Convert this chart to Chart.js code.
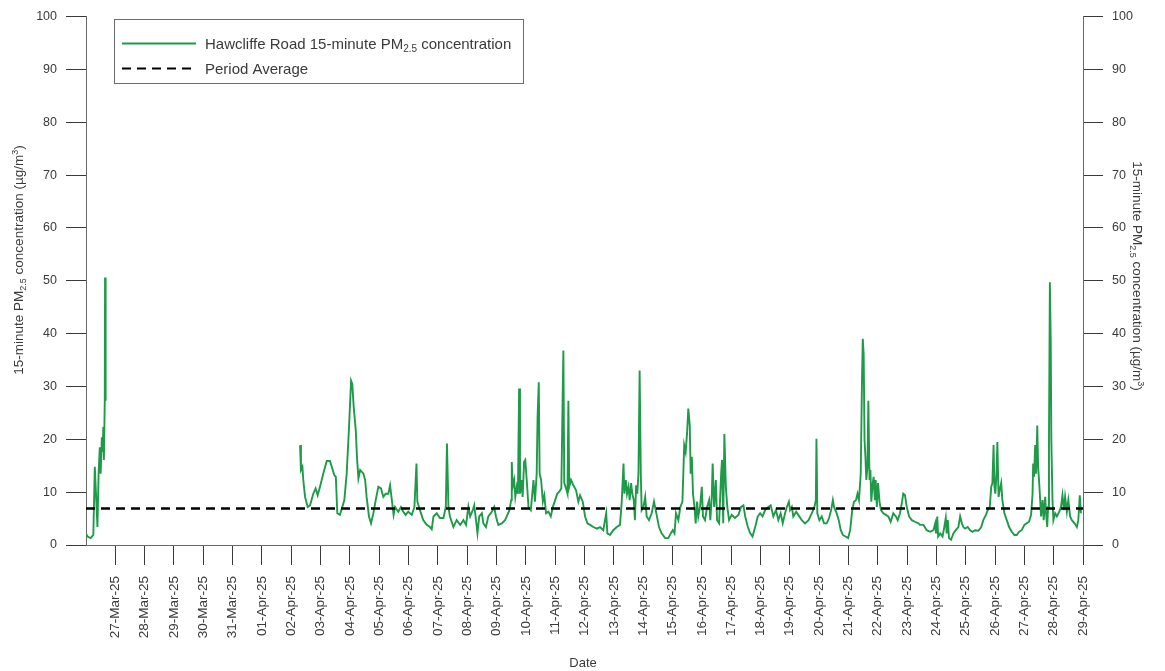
<!DOCTYPE html>
<html>
<head>
<meta charset="utf-8">
<script src="https://cdn.jsdelivr.net/npm/chart.js@4.4.1/dist/chart.umd.min.js"></script>
<style>
  html, body { margin: 0; padding: 0; background: #fff; }
  canvas { display: block; }
</style>
</head>
<body>
<canvas id="chart" width="1165" height="671" style="width:1165px;height:671px"></canvas>
<script>
// x values are days since 26-Mar-25 00:00
const dateLabels = [
  '27-Mar-25', '28-Mar-25', '29-Mar-25', '30-Mar-25', '31-Mar-25', '01-Apr-25', '02-Apr-25',
  '03-Apr-25', '04-Apr-25', '05-Apr-25', '06-Apr-25', '07-Apr-25', '08-Apr-25', '09-Apr-25',
  '10-Apr-25', '11-Apr-25', '12-Apr-25', '13-Apr-25', '14-Apr-25', '15-Apr-25', '16-Apr-25',
  '17-Apr-25', '18-Apr-25', '19-Apr-25', '20-Apr-25', '21-Apr-25', '22-Apr-25', '23-Apr-25',
  '24-Apr-25', '25-Apr-25', '26-Apr-25', '27-Apr-25', '28-Apr-25', '29-Apr-25'
];
const yTickStep = 10;
const yMax = 100;
const periodAverage = 6.9;

// [day, PM2.5 ug/m3]
const march26 = [
  [0.00, 2.2], [0.05, 1.6], [0.16, 1.3], [0.25, 1.9], [0.30, 14.8], [0.34, 9.7], [0.39, 3.4],
  [0.43, 13.5], [0.47, 18.5], [0.50, 13.5], [0.54, 20.4], [0.57, 17.6], [0.59, 22.3], [0.61, 16.1],
  [0.64, 27.3], [0.65, 50.6], [0.67, 27.3]
];
const april02to08 = [
  [7.30, 18.9], [7.33, 14.2], [7.38, 14.8], [7.41, 12.3], [7.47, 9.1], [7.56, 7.2], [7.64, 7.5],
  [7.75, 9.7], [7.83, 10.7], [7.90, 9.4], [7.98, 11], [8.09, 13.5], [8.21, 15.9], [8.32, 15.9],
  [8.38, 14.8], [8.47, 13.2], [8.52, 12.9], [8.57, 6], [8.66, 5.7], [8.74, 7.2], [8.81, 8.5],
  [8.89, 13.5], [8.97, 22.3], [9.04, 31.1], [9.08, 30.5], [9.13, 26.1], [9.20, 21.7], [9.24, 16.7],
  [9.29, 12.6], [9.35, 14.2], [9.46, 13.5], [9.52, 12.3], [9.57, 9.1], [9.65, 5.4], [9.72, 4.1],
  [9.80, 6], [9.88, 8.5], [9.97, 11], [10.06, 10.7], [10.14, 9.1], [10.22, 9.7], [10.31, 9.7],
  [10.37, 11.3], [10.43, 8.5], [10.49, 5.7], [10.54, 7.2], [10.65, 6.3], [10.74, 7.2], [10.82, 6.3],
  [10.90, 5.7], [10.99, 6.3], [11.11, 5.7], [11.20, 7.2], [11.27, 15.4], [11.30, 8.2], [11.39, 6.6],
  [11.50, 4.7], [11.62, 3.8], [11.73, 3.4], [11.79, 3], [11.85, 5.4], [11.96, 6], [12.07, 5.1],
  [12.19, 5.1], [12.27, 7.2], [12.31, 19.2], [12.36, 7.2]
];
const april08to13 = [
  [12.41, 5.4], [12.53, 3.4], [12.64, 4.7], [12.76, 3.8], [12.87, 4.7], [12.96, 3.8], [13.04, 7.2],
  [13.10, 5.4], [13.19, 6.6], [13.24, 7.5], [13.30, 4.7], [13.35, 2.2], [13.41, 5.4], [13.50, 6],
  [13.55, 4.1], [13.64, 3.4], [13.72, 5.4], [13.84, 6.3], [13.92, 7.2], [13.98, 5.4], [14.06, 3.8],
  [14.18, 4.1], [14.29, 4.7], [14.37, 5.7], [14.44, 6.6], [14.50, 8.5], [14.52, 15.7], [14.55, 11],
  [14.60, 12.3], [14.64, 9.1], [14.69, 11], [14.73, 9.7], [14.77, 29.6], [14.80, 9.7], [14.85, 12.3],
  [14.89, 9.1], [14.94, 15.7], [14.98, 16.1], [15.03, 12.3], [15.09, 7.2], [15.17, 6.6], [15.26, 12.3],
  [15.31, 8.2], [15.37, 13.5], [15.40, 24.2], [15.44, 30.8], [15.47, 13.5], [15.52, 12.3], [15.58, 8.2],
  [15.63, 9.4], [15.69, 6], [15.77, 6.3], [15.85, 5.4], [15.92, 7.2], [16.00, 8.5], [16.07, 9.7],
  [16.14, 10.1], [16.21, 10.7], [16.25, 26], [16.28, 36.8], [16.31, 11.7], [16.37, 10.7], [16.42, 9.7],
  [16.45, 27.3], [16.48, 11], [16.54, 12.3], [16.62, 11.3], [16.71, 10.4], [16.79, 8.2], [16.85, 9.4],
  [16.94, 8.2], [17.02, 5.4], [17.10, 4.1], [17.19, 3.8], [17.30, 3.4], [17.42, 3.1], [17.53, 3.4],
  [17.64, 2.8], [17.74, 6], [17.78, 2.2], [17.87, 1.9]
];
const april13to19 = [
  [17.98, 2.8], [18.10, 3.4], [18.21, 3.8], [18.27, 8.2], [18.33, 15.4], [18.36, 9.7], [18.41, 12.3],
  [18.45, 9.7], [18.50, 11], [18.54, 8.5], [18.59, 11.7], [18.63, 9.7], [18.68, 8.5], [18.72, 4.7],
  [18.76, 11.3], [18.80, 9.7], [18.84, 13.5], [18.88, 33], [18.92, 13.5], [18.95, 6.6], [19.01, 7.2],
  [19.07, 9.1], [19.12, 5.4], [19.20, 4.7], [19.29, 6], [19.37, 8.2], [19.46, 5.7], [19.54, 3.4],
  [19.63, 2.2], [19.75, 1.3], [19.86, 1.3], [19.94, 2.2], [20.01, 2.8], [20.07, 2.2], [20.12, 6],
  [20.20, 4.7], [20.27, 7.2], [20.34, 8.2], [20.40, 18.9], [20.45, 17.6], [20.50, 21.4], [20.54, 25.8],
  [20.59, 22.6], [20.62, 13.5], [20.66, 16.7], [20.70, 9.7], [20.75, 7.2], [20.79, 4.1], [20.84, 8.2],
  [20.88, 5.4], [20.94, 7.2], [21.00, 11], [21.04, 5.4], [21.11, 4.7], [21.18, 7.2], [21.25, 8.5],
  [21.29, 4.7], [21.34, 9.1], [21.37, 15.4], [21.42, 7.2], [21.48, 12.3], [21.52, 4.7], [21.59, 4.1],
  [21.66, 13.5], [21.69, 16.1], [21.73, 4.1], [21.77, 21], [21.82, 11], [21.87, 7.2], [21.93, 4.7],
  [22.02, 5.7], [22.13, 5.1], [22.25, 5.7], [22.34, 7.2], [22.42, 7.5], [22.48, 5.4], [22.57, 3.4],
  [22.65, 2.2], [22.73, 1.6], [22.82, 3.4], [22.91, 5.4], [22.99, 6], [23.07, 5.4], [23.16, 6.6]
];
const april19to24 = [
  [23.27, 7.2], [23.35, 7.5], [23.44, 5.4], [23.53, 6.6], [23.61, 4.7], [23.69, 6], [23.76, 4.1],
  [23.84, 6], [23.90, 7.2], [23.97, 8.2], [24.01, 6.6], [24.07, 7.2], [24.12, 5.4], [24.22, 6.3],
  [24.29, 5.7], [24.41, 4.7], [24.52, 4.1], [24.64, 4.7], [24.75, 6], [24.84, 7.2], [24.89, 8.5],
  [24.91, 20.1], [24.94, 6], [25.01, 4.7], [25.09, 5.4], [25.17, 4.1], [25.26, 4.1], [25.34, 5.1],
  [25.41, 6.6], [25.47, 8.5], [25.51, 7.2], [25.60, 6], [25.67, 4.7], [25.74, 2.8], [25.81, 1.9],
  [25.90, 1.6], [25.99, 1.3], [26.06, 2.8], [26.13, 6.6], [26.19, 8.2], [26.26, 8.5], [26.31, 9.7],
  [26.36, 8.5], [26.42, 13.5], [26.46, 29.9], [26.49, 39], [26.52, 36.2], [26.55, 19.8], [26.58, 16.7],
  [26.61, 12.3], [26.65, 14.8], [26.68, 27.3], [26.72, 12.3], [26.75, 14.2], [26.78, 8.2], [26.83, 11.7],
  [26.86, 12.9], [26.90, 8.5], [26.93, 12.3], [26.97, 7.2], [27.01, 11.7], [27.06, 8.2], [27.11, 6.6],
  [27.19, 6], [27.28, 5.7], [27.36, 5.4], [27.44, 4.4], [27.53, 6], [27.62, 5.4], [27.68, 4.7],
  [27.76, 6], [27.83, 8.2], [27.87, 9.7], [27.93, 9.4], [27.99, 7.2], [28.07, 5.4], [28.16, 4.7],
  [28.27, 4.4], [28.39, 4.1], [28.44, 3.8]
];
const april24to29 = [
  [28.56, 3.8], [28.67, 2.8], [28.79, 2.5], [28.90, 2.8], [28.96, 4.1], [28.99, 2.2], [29.03, 5.4],
  [29.06, 1.6], [29.13, 2.2], [29.21, 1.6], [29.27, 3.4], [29.32, 5.1], [29.35, 2.2], [29.39, 4.7],
  [29.43, 1.3], [29.50, 1], [29.58, 2.2], [29.66, 2.8], [29.75, 3.4], [29.81, 5.4], [29.87, 4.1],
  [29.92, 3.4], [29.98, 3.1], [30.07, 3.4], [30.15, 2.8], [30.23, 2.5], [30.32, 2.8], [30.43, 2.7],
  [30.53, 3.4], [30.60, 4.7], [30.69, 5.7], [30.75, 6.6], [30.82, 7.2], [30.87, 11], [30.91, 11.7],
  [30.95, 18.9], [30.98, 11], [31.01, 9.7], [31.05, 13.5], [31.08, 19.5], [31.12, 9.1], [31.16, 10.4],
  [31.21, 11.7], [31.25, 8.5], [31.32, 6], [31.40, 4.7], [31.48, 3.4], [31.57, 2.5], [31.66, 1.9],
  [31.74, 1.9], [31.82, 2.5], [31.91, 2.8], [32.00, 3.8], [32.08, 4.1], [32.16, 4.4], [32.23, 5.7],
  [32.28, 9.7], [32.30, 15.4], [32.33, 12.9], [32.37, 18.9], [32.40, 13.5], [32.44, 22.6], [32.47, 14.8],
  [32.50, 12.3], [32.54, 8.5], [32.57, 5.4], [32.62, 8.5], [32.66, 4.7], [32.71, 9.1], [32.74, 6],
  [32.78, 3.4], [32.81, 7.2], [32.84, 19.8], [32.87, 49.7], [32.90, 38.7], [32.92, 19.8], [32.96, 8.5],
  [32.99, 4.7], [33.05, 6], [33.11, 5.4], [33.19, 6.3], [33.25, 7.2], [33.30, 9.4], [33.35, 6.6],
  [33.39, 9.1], [33.45, 6.3], [33.50, 8.5], [33.56, 5.4], [33.62, 4.7], [33.71, 4.1], [33.79, 3.4],
  [33.84, 4.7], [33.89, 9.4], [33.93, 6]
];

const FONT = "'Liberation Sans', Arial, sans-serif";
const GREEN = '#1e9a48';
const TEXT = '#3a3a3a';

const toPoints = (rows) => rows.map(([d, v]) => ({ x: d, y: v }));
const pmPoints = [
  ...toPoints(march26),
  { x: 3, y: null }, // no data 27-Mar to 02-Apr
  ...toPoints(april02to08),
  ...toPoints(april08to13),
  ...toPoints(april13to19),
  ...toPoints(april19to24),
  ...toPoints(april24to29),
];

// text with sub/superscript pieces
function richWidth(ctx, pieces, size) {
  let w = 0;
  pieces.forEach((p) => {
    ctx.font = `${p.s ? Math.round(size * 0.65) : size}px ${FONT}`;
    w += ctx.measureText(p.t).width;
  });
  return w;
}
function drawRich(ctx, pieces, x, y, size) {
  let cx = x;
  pieces.forEach((p) => {
    const small = p.s === 'sub' || p.s === 'sup';
    ctx.font = `${small ? Math.round(size * 0.65) : size}px ${FONT}`;
    let dy = 0;
    if (p.s === 'sub') dy = size * 0.25;
    if (p.s === 'sup') dy = -size * 0.38;
    ctx.fillText(p.t, cx, y + dy);
    cx += ctx.measureText(p.t).width;
  });
}

const axisTitle = [
  { t: '15-minute PM' }, { t: '2.5', s: 'sub' }, { t: ' concentration (µg/m' }, { t: '3', s: 'sup' }, { t: ')' }
];
const legendSeries = [
  { t: 'Hawcliffe Road 15-minute PM' }, { t: '2.5', s: 'sub' }, { t: ' concentration' }
];

const decorPlugin = {
  id: 'decor',
  afterDraw(chart) {
    const ctx = chart.ctx;
    ctx.save();
    ctx.fillStyle = TEXT;
    ctx.textBaseline = 'alphabetic';
    ctx.textAlign = 'left';

    // left axis title
    const tsz = 13.5;
    const w = richWidth(ctx, axisTitle, tsz);
    ctx.save();
    ctx.translate(23, 260);
    ctx.rotate(-Math.PI / 2);
    drawRich(ctx, axisTitle, -w / 2, 0, tsz);
    ctx.restore();

    // right axis title
    ctx.save();
    ctx.translate(1133, 276);
    ctx.rotate(Math.PI / 2);
    drawRich(ctx, axisTitle, -w / 2, 0, tsz);
    ctx.restore();

    // x axis title
    ctx.font = `13px ${FONT}`;
    ctx.textAlign = 'center';
    ctx.fillText('Date', 583, 667);
    ctx.textAlign = 'left';

    // legend
    ctx.fillStyle = '#fff';
    ctx.fillRect(114.5, 19.5, 409, 64);
    ctx.strokeStyle = '#6b6b6b';
    ctx.lineWidth = 1;
    ctx.strokeRect(114.5, 19.5, 409, 64);

    ctx.lineWidth = 2;
    ctx.strokeStyle = GREEN;
    ctx.beginPath();
    ctx.moveTo(122, 43.5);
    ctx.lineTo(196, 43.5);
    ctx.stroke();

    ctx.strokeStyle = '#000';
    ctx.setLineDash([9, 6]);
    ctx.beginPath();
    ctx.moveTo(122, 68.5);
    ctx.lineTo(196, 68.5);
    ctx.stroke();
    ctx.setLineDash([]);

    ctx.fillStyle = TEXT;
    drawRich(ctx, legendSeries, 205, 48.5, 15);
    ctx.font = `15px ${FONT}`;
    ctx.fillText('Period Average', 205, 73.5);
    ctx.restore();
  }
};

const tickFont = { family: FONT, size: 12.5 };
const yScale = (position, width) => ({
  type: 'linear',
  position,
  min: 0,
  max: yMax,
  afterFit: (s) => { s.width = width; },
  ticks: { stepSize: yTickStep, padding: 9, color: TEXT, font: tickFont },
  grid: { drawOnChartArea: false, drawTicks: true, tickLength: 20, tickColor: '#3a3a3a', lineWidth: 1 },
  border: { display: true, color: '#6a6a6a', width: 1 },
});

new Chart(document.getElementById('chart'), {
  type: 'line',
  data: {
    datasets: [
      {
        label: 'Period Average',
        data: [{ x: 0, y: periodAverage }, { x: dateLabels.length, y: periodAverage }],
        borderColor: '#000',
        borderWidth: 2.5,
        borderDash: [9, 6],
        pointRadius: 0,
        yAxisID: 'y',
      },
      {
        label: 'Hawcliffe Road 15-minute PM2.5 concentration',
        data: pmPoints,
        borderColor: GREEN,
        borderWidth: 1.9,
        pointRadius: 0,
        tension: 0,
        spanGaps: false,
        yAxisID: 'y',
      },
    ],
  },
  options: {
    responsive: false,
    animation: false,
    layout: { padding: { top: 15, left: 0, right: 0, bottom: 0 } },
    plugins: { legend: { display: false }, tooltip: { enabled: false } },
    scales: {
      x: {
        type: 'linear',
        min: 0,
        max: dateLabels.length,
        afterBuildTicks: (s) => { s.ticks = dateLabels.map((_, i) => ({ value: i + 1 })); },
        afterFit: (s) => { s.height = 126; },
        ticks: {
          autoSkip: false,
          minRotation: 90,
          maxRotation: 90,
          padding: 11,
          color: TEXT,
          font: { family: FONT, size: 13.5 },
          callback: (v) => dateLabels[Math.round(v) - 1],
        },
        grid: { drawOnChartArea: false, drawTicks: true, tickLength: 20, tickColor: '#3a3a3a' },
        border: { display: true, color: '#6a6a6a', width: 1 },
      },
      y: yScale('left', 86),
      y2: yScale('right', 82),
    },
  },
  plugins: [decorPlugin],
});
</script>
</body>
</html>
